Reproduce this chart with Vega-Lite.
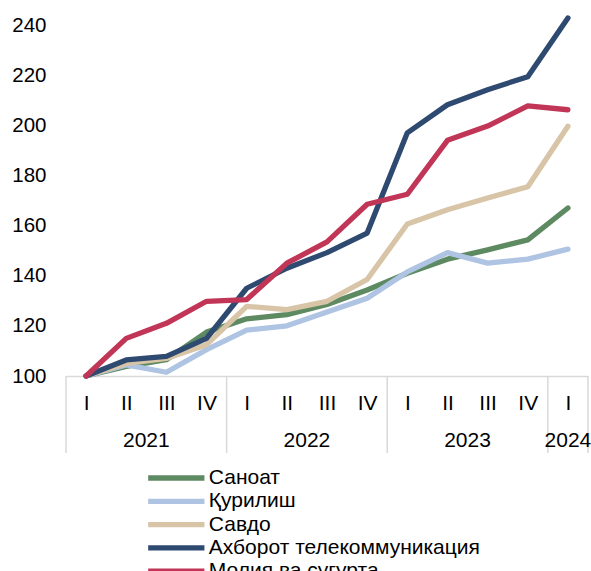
{
  "$schema": "https://vega.github.io/schema/vega-lite/v6.json",
  "width": 522,
  "height": 351,
  "autosize": {"type": "none"},
  "padding": {"left": 66, "top": 25, "right": 3, "bottom": 195},
  "config": {
    "font": "Liberation Sans",
    "view": {"stroke": null},
    "legend": {
      "orient": "none",
      "legendX": 99.8,
      "legendY": 442.5,
      "symbolType": "M-3.75,0H3.75",
      "symbolSize": 225,
      "symbolStrokeWidth": 5.3,
      "labelFontSize": 21,
      "labelColor": "#000000",
      "labelOffset": 22,
      "labelLimit": 500,
      "rowPadding": 0.3,
      "padding": 0
    }
  },
  "datasets": {
    "sep": [
      {"t": -0.5, "v": 100, "v2": 69.3},
      {"t": 3.5, "v": 100, "v2": 69.3},
      {"t": 7.5, "v": 100, "v2": 69.3},
      {"t": 11.5, "v": 100, "v2": 69.3},
      {"t": 12.5, "v": 100, "v2": 69.3}
    ],
    "years": [
      {"t": 1.5, "v": 74, "label": "2021"},
      {"t": 5.5, "v": 74, "label": "2022"},
      {"t": 9.5, "v": 74, "label": "2023"},
      {"t": 12, "v": 74, "label": "2024"}
    ],
    "series": [
      {"s": "Саноат", "t": 0, "v": 100},
      {"s": "Саноат", "t": 1, "v": 103.8},
      {"s": "Саноат", "t": 2, "v": 106.5},
      {"s": "Саноат", "t": 3, "v": 117.5},
      {"s": "Саноат", "t": 4, "v": 122.8},
      {"s": "Саноат", "t": 5, "v": 124.5},
      {"s": "Саноат", "t": 6, "v": 128.5},
      {"s": "Саноат", "t": 7, "v": 134.3},
      {"s": "Саноат", "t": 8, "v": 141},
      {"s": "Саноат", "t": 9, "v": 146.6},
      {"s": "Саноат", "t": 10, "v": 150.3},
      {"s": "Саноат", "t": 11, "v": 154.3},
      {"s": "Саноат", "t": 12, "v": 167},
      {"s": "Қурилиш", "t": 0, "v": 100},
      {"s": "Қурилиш", "t": 1, "v": 104.4},
      {"s": "Қурилиш", "t": 2, "v": 101.5},
      {"s": "Қурилиш", "t": 3, "v": 110.5},
      {"s": "Қурилиш", "t": 4, "v": 118.3},
      {"s": "Қурилиш", "t": 5, "v": 120},
      {"s": "Қурилиш", "t": 6, "v": 125.5},
      {"s": "Қурилиш", "t": 7, "v": 131},
      {"s": "Қурилиш", "t": 8, "v": 141.5},
      {"s": "Қурилиш", "t": 9, "v": 149.2},
      {"s": "Қурилиш", "t": 10, "v": 145},
      {"s": "Қурилиш", "t": 11, "v": 146.6},
      {"s": "Қурилиш", "t": 12, "v": 150.6},
      {"s": "Савдо", "t": 0, "v": 100},
      {"s": "Савдо", "t": 1, "v": 105},
      {"s": "Савдо", "t": 2, "v": 107},
      {"s": "Савдо", "t": 3, "v": 112.5},
      {"s": "Савдо", "t": 4, "v": 127.8},
      {"s": "Савдо", "t": 5, "v": 126.5},
      {"s": "Савдо", "t": 6, "v": 129.8},
      {"s": "Савдо", "t": 7, "v": 138.5},
      {"s": "Савдо", "t": 8, "v": 160.6},
      {"s": "Савдо", "t": 9, "v": 166.3},
      {"s": "Савдо", "t": 10, "v": 171},
      {"s": "Савдо", "t": 11, "v": 175.5},
      {"s": "Савдо", "t": 12, "v": 199.6},
      {"s": "Ахборот телекоммуникация", "t": 0, "v": 100},
      {"s": "Ахборот телекоммуникация", "t": 1, "v": 106.4},
      {"s": "Ахборот телекоммуникация", "t": 2, "v": 107.8},
      {"s": "Ахборот телекоммуникация", "t": 3, "v": 115},
      {"s": "Ахборот телекоммуникация", "t": 4, "v": 135},
      {"s": "Ахборот телекоммуникация", "t": 5, "v": 143},
      {"s": "Ахборот телекоммуникация", "t": 6, "v": 149.2},
      {"s": "Ахборот телекоммуникация", "t": 7, "v": 157},
      {"s": "Ахборот телекоммуникация", "t": 8, "v": 197},
      {"s": "Ахборот телекоммуникация", "t": 9, "v": 208.2},
      {"s": "Ахборот телекоммуникация", "t": 10, "v": 214.2},
      {"s": "Ахборот телекоммуникация", "t": 11, "v": 219.4},
      {"s": "Ахборот телекоммуникация", "t": 12, "v": 242.8},
      {"s": "Молия ва суғурта", "t": 0, "v": 100},
      {"s": "Молия ва суғурта", "t": 1, "v": 115},
      {"s": "Молия ва суғурта", "t": 2, "v": 121},
      {"s": "Молия ва суғурта", "t": 3, "v": 129.8},
      {"s": "Молия ва суғурта", "t": 4, "v": 130.5},
      {"s": "Молия ва суғурта", "t": 5, "v": 145},
      {"s": "Молия ва суғурта", "t": 6, "v": 153.5},
      {"s": "Молия ва суғурта", "t": 7, "v": 168.5},
      {"s": "Молия ва суғурта", "t": 8, "v": 172.5},
      {"s": "Молия ва суғурта", "t": 9, "v": 194},
      {"s": "Молия ва суғурта", "t": 10, "v": 199.7},
      {"s": "Молия ва суғурта", "t": 11, "v": 207.7},
      {"s": "Молия ва суғурта", "t": 12, "v": 206.2}
    ]
  },
  "encoding": {
    "x": {
      "field": "t",
      "type": "quantitative",
      "scale": {"domain": [-0.5, 12.5], "nice": false, "zero": false},
      "axis": {
        "title": null,
        "values": [0, 1, 2, 3, 4, 5, 6, 7, 8, 9, 10, 11, 12],
        "labelExpr": "['I','II','III','IV'][datum.value % 4]",
        "ticks": false,
        "tickSize": 0,
        "grid": false,
        "domain": true,
        "domainColor": "#d9d9d9",
        "domainWidth": 1.5,
        "labelFontSize": 21,
        "labelColor": "#000000",
        "labelPadding": 16,
        "labelFlush": false,
        "labelOverlap": false
      }
    },
    "y": {
      "field": "v",
      "type": "quantitative",
      "scale": {"domain": [100, 240], "nice": false, "zero": false},
      "axis": {
        "title": null,
        "values": [100, 120, 140, 160, 180, 200, 220, 240],
        "ticks": false,
        "tickSize": 0,
        "grid": false,
        "domain": false,
        "labelFontSize": 20.5,
        "labelColor": "#000000",
        "labelPadding": 20
      }
    }
  },
  "layer": [
    {
      "data": {"name": "sep"},
      "mark": {"type": "rule", "color": "#d9d9d9", "strokeWidth": 1.5},
      "encoding": {"y2": {"field": "v2"}}
    },
    {
      "data": {"name": "years"},
      "mark": {"type": "text", "fontSize": 21, "baseline": "middle", "align": "center", "color": "#000000"},
      "encoding": {"text": {"field": "label"}}
    },
    {
      "data": {"name": "series"},
      "mark": {"type": "line", "strokeWidth": 5.3, "strokeCap": "round", "strokeJoin": "round"},
      "encoding": {
        "color": {
          "field": "s",
          "type": "nominal",
          "title": null,
          "sort": null,
          "scale": {
            "domain": ["Саноат", "Қурилиш", "Савдо", "Ахборот телекоммуникация", "Молия ва суғурта"],
            "range": ["#5e8a62", "#aec4e2", "#d8c4a6", "#2f4a70", "#c13556"]
          }
        }
      }
    }
  ]
}
